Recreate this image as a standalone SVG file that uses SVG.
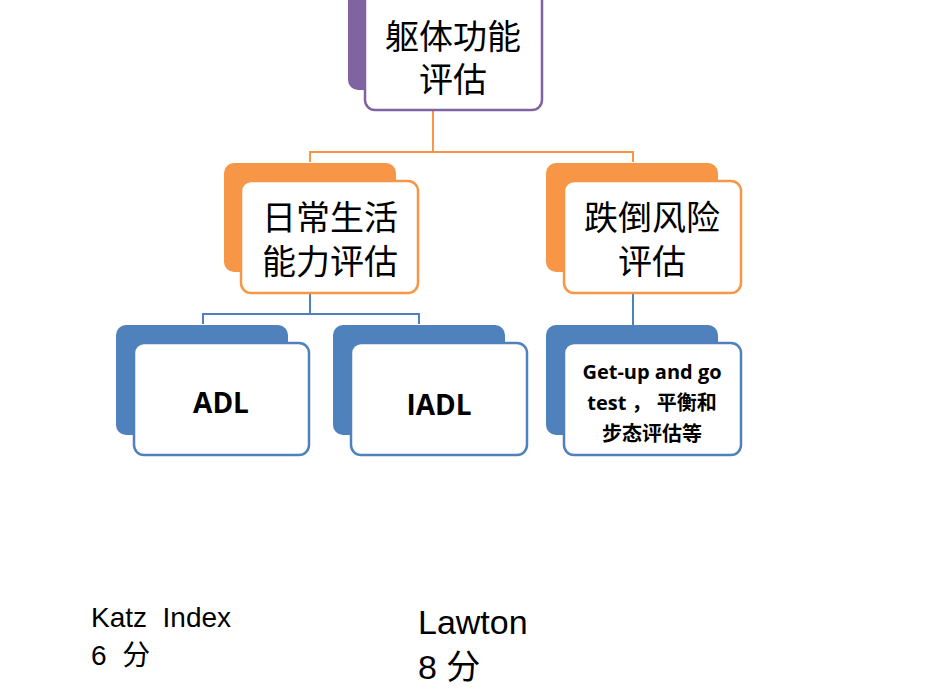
<svg xmlns="http://www.w3.org/2000/svg" width="950" height="692" viewBox="0 0 950 692">
<style>
.f{fill:#fff;stroke-width:2.5}
.cn{fill:none;stroke-width:2}
.t{font-family:"Liberation Sans","Noto Sans CJK SC",sans-serif;fill:#000;text-anchor:middle}
.b{font-family:"Open Sans","Noto Sans CJK SC",sans-serif;font-weight:bold;fill:#000;text-anchor:middle}
</style>
<rect width="950" height="692" fill="#fff"/>
<g id="connectors">
<path class="cn" stroke="#f79646" d="M433 110V152M310 162V152H633V162"/>
<path class="cn" stroke="#4f81bd" d="M310 293V314M203 324V314H419V324M633 293V325"/>
</g>
<g id="n0">
<rect x="348" y="-20" width="172" height="110" rx="10" fill="#8064a2"/>
<rect class="f" x="365" y="-10" width="177" height="120" rx="10" stroke="#8064a2"/>
<text class="t" font-size="34" x="453" y="49">躯体功能</text>
<text class="t" font-size="34" x="453" y="92">评估</text>
</g>
<g id="n1">
<rect x="224" y="163" width="172" height="109" rx="10" fill="#f79646"/>
<rect class="f" x="241" y="181" width="177" height="112" rx="10" stroke="#f79646"/>
<text class="t" font-size="34" x="330" y="230">日常生活</text>
<text class="t" font-size="34" x="330" y="274">能力评估</text>
</g>
<g id="n2">
<rect x="546" y="163" width="172" height="109" rx="10" fill="#f79646"/>
<rect class="f" x="564" y="181" width="177" height="112" rx="10" stroke="#f79646"/>
<text class="t" font-size="34" x="652" y="230">跌倒风险</text>
<text class="t" font-size="34" x="652" y="274">评估</text>
</g>
<g id="n3">
<rect x="116" y="325" width="172" height="110" rx="10" fill="#4f81bd"/>
<rect class="f" x="134" y="343" width="175" height="112" rx="10" stroke="#4f81bd"/>
<text class="b" font-size="28" x="221" y="413">ADL</text>
</g>
<g id="n4">
<rect x="333" y="325" width="172" height="110" rx="10" fill="#4f81bd"/>
<rect class="f" x="351" y="343" width="176" height="112" rx="10" stroke="#4f81bd"/>
<text class="b" font-size="28" x="439" y="415">IADL</text>
</g>
<g id="n5">
<rect x="546" y="325" width="172" height="110" rx="10" fill="#4f81bd"/>
<rect class="f" x="564" y="343" width="177" height="112" rx="10" stroke="#4f81bd"/>
<text class="b" font-size="20" x="652" y="379">Get-up  and go</text>
<text class="b" font-size="20" x="652" y="410">test ， 平衡和</text>
<text class="b" font-size="20" x="652" y="441">步态评估等</text>
</g>
<g id="labels" font-family="'Liberation Sans','Noto Sans CJK SC',sans-serif" fill="#000">
<text x="91" y="627" font-size="28" xml:space="preserve">Katz  Index</text>
<text x="91" y="665" font-size="28" xml:space="preserve">6  分</text>
<text x="418" y="634" font-size="34">Lawton</text>
<text x="418" y="679" font-size="34">8 分</text>
</g>
</svg>
